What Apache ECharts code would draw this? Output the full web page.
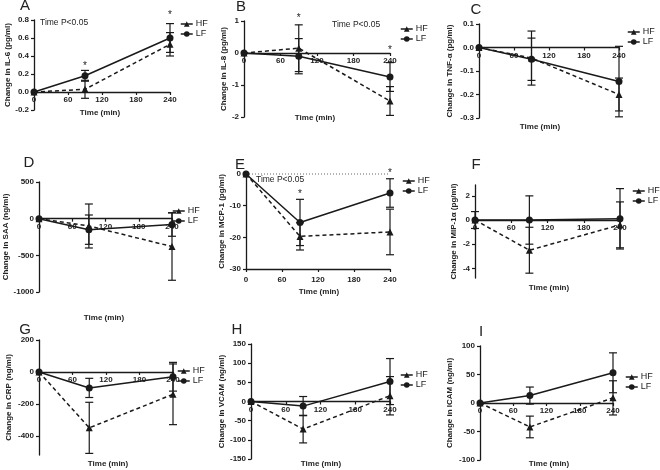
<!DOCTYPE html>
<html>
<head>
<meta charset="utf-8">
<script src="https://cdn.jsdelivr.net/npm/echarts@6/dist/echarts.min.js"></script>
<style>
html, body { margin: 0; padding: 0; background: #fff; }
#chart { width: 660px; height: 470px; }
</style>
</head>
<body>
<div id="chart"></div>
<script>
// sampling times (min)
const times = [0, 90, 240]
const xTicks = [0, 60, 120, 180, 240]

// mean change and error (SEM) per marker, HF / LF
const il6HF = [0, 0.03, 0.53], il6HFErr = [0, 0.10, 0.13]
const il6LF = [0, 0.18, 0.60], il6LFErr = [0, 0.06, 0.16]
const il8HF = [0, 0.15, -1.5], il8HFErr = [0, 0.73, 0.45]
const il8LF = [0, -0.1, -0.75], il8LFErr = [0, 0.55, 0.45]
const tnfHF = [0, -0.045, -0.2], tnfHFErr = [0, 0.115, 0.07]
const tnfLF = [0, -0.05, -0.145], tnfLFErr = [0, 0.09, 0.15]
const saaHF = [0, -100, -380], saaHFErr = [0, 300, 460]
const saaLF = [0, -150, -80], saaLFErr = [0, 200, 160]
const mcpHF = [0, -19.7, -18.3], mcpHFErr = [0, 4.3, 7.2]
const mcpLF = [0, -15.3, -6], mcpLFErr = [0, 7.3, 4.5]
const mipHF = [0, -2.5, -0.4], mipHFErr = [0.7, 1.9, 1.9]
const mipLF = [0, 0, 0.1], mipLFErr = [0, 2.0, 2.5]
const crpHF = [0, -350, -140], crpHFErr = [0, 160, 190]
const crpLF = [0, -100, -30], crpLFErr = [0, 60, 90]
const vcamHF = [0, -72, 15], vcamHFErr = [0, 36, 50]
const vcamLF = [0, -12, 52], vcamLFErr = [0, 25, 60]
const icamHF = [0, -42, 9], icamHFErr = [0, 19, 30]
const icamLF = [0, 13, 53], icamLFErr = [0, 15, 35]

// significance asterisks [time, y]
const il6Stars = [[90, 0.29], [240, 0.85]]
const il8Stars = [[90, 1.1], [240, 0.1]]
const mcpStars = [[90, -6.5], [240, 0.2]]

const FONT = '"Liberation Sans", Arial, sans-serif'
const INK = '#1a1a1a'

const panels = [
    { key: 'A', name: 'Change in IL-6 (pg/ml)', hf: il6HF, hfErr: il6HFErr, lf: il6LF, lfErr: il6LFErr, stars: il6Stars,
      grid: { left: 34, top: 20, width: 136, height: 90 }, y: { min: -0.2, max: 0.8, interval: 0.2, dec: 1 }, gap: 22,
      legend: [180, 19.5], letter: [25, 6], xName: [100, 113], note: [40, 23] },
    { key: 'B', name: 'Change in IL-8 (pg/ml)', hf: il8HF, hfErr: il8HFErr, lf: il8LF, lfErr: il8LFErr, stars: il8Stars,
      grid: { left: 244, top: 21, width: 146, height: 96 }, y: { min: -2, max: 1, interval: 1, dec: 0 }, gap: 16,
      legend: [400, 24.5], letter: [241, 7], xName: [315, 118], note: [332, 25] },
    { key: 'C', name: 'Change in TNF-\u03b1 (pg/ml)', hf: tnfHF, hfErr: tnfHFErr, lf: tnfLF, lfErr: tnfLFErr,
      grid: { left: 479, top: 24, width: 140, height: 94 }, y: { min: -0.3, max: 0.1, interval: 0.1, dec: 1 }, gap: 25,
      legend: [627, 27.5], letter: [476, 10], xName: [540, 127] },
    { key: 'D', name: 'Change in SAA (ng/ml)', hf: saaHF, hfErr: saaHFErr, lf: saaLF, lfErr: saaLFErr,
      grid: { left: 39, top: 182, width: 133, height: 110 }, y: { min: -1000, max: 500, interval: 500, dec: 0 }, gap: 29,
      legend: [172, 206.5], letter: [29, 163], xName: [104, 318] },
    { key: 'E', name: 'Change in MCP-1 (pg/ml)', hf: mcpHF, hfErr: mcpHFErr, lf: mcpLF, lfErr: mcpLFErr, stars: mcpStars,
      grid: { left: 246, top: 174, width: 144, height: 95 }, y: { min: -30, max: 0, interval: 10, dec: 0 }, gap: 19,
      legend: [402, 176.5], letter: [240, 165], xName: [319, 292], note: [256, 180], bottomAxis: true },
    { key: 'F', name: 'Change in MIP-1\u03b1 (pg/ml)', hf: mipHF, hfErr: mipHFErr, lf: mipLF, lfErr: mipLFErr,
      grid: { left: 475, top: 185, width: 145, height: 93 }, y: { min: -4.8, max: 2.9, ticks: [-4, -2, 0, 2], dec: 0 }, gap: 17,
      legend: [632, 186.5], letter: [476, 165], xName: [549, 288] },
    { key: 'G', name: 'Change in CRP (ng/ml)', hf: crpHF, hfErr: crpHFErr, lf: crpLF, lfErr: crpLFErr,
      grid: { left: 39, top: 340, width: 134, height: 115 }, y: { min: -520, max: 200, ticks: [-400, -200, 0, 200], dec: 0 }, gap: 26,
      legend: [177, 366.5], letter: [25, 330], xName: [108, 464] },
    { key: 'H', name: 'Change in VCAM (ng/ml)', hf: vcamHF, hfErr: vcamHFErr, lf: vcamLF, lfErr: vcamLFErr,
      grid: { left: 251, top: 344, width: 139, height: 115 }, y: { min: -150, max: 150, interval: 50, dec: 0 }, gap: 24,
      legend: [400, 370.5], letter: [237, 330], xName: [321, 464] },
    { key: 'I', name: 'Change in ICAM (ng/ml)', hf: icamHF, hfErr: icamHFErr, lf: icamLF, lfErr: icamLFErr,
      grid: { left: 480, top: 346, width: 133, height: 114 }, y: { min: -100, max: 100, interval: 50, dec: 0 }, gap: 26,
      legend: [625, 372.5], letter: [481, 332], xName: [549, 464] }
]

const axisLine = { lineStyle: { color: INK, width: 1.3 } }
const tickLabel = { color: '#222', fontSize: 8, fontWeight: 'bold', fontFamily: FONT }

function renderErr(params, api) {
    const x = api.value(0)
    const lo = api.coord([x, api.value(1)])
    const hi = api.coord([x, api.value(2)])
    const w = 4
    const style = { stroke: INK, lineWidth: 1.2 }
    return {
        type: 'group',
        children: [
            { type: 'line', shape: { x1: lo[0], y1: lo[1], x2: hi[0], y2: hi[1] }, style },
            { type: 'line', shape: { x1: lo[0] - w, y1: lo[1], x2: lo[0] + w, y2: lo[1] }, style },
            { type: 'line', shape: { x1: hi[0] - w, y1: hi[1], x2: hi[0] + w, y2: hi[1] }, style }
        ]
    }
}

function renderStar(params, api) {
    const c = api.coord([api.value(0), api.value(1)])
    return {
        type: 'text', x: c[0], y: c[1],
        style: { text: '*', fontSize: 10, fontFamily: FONT, fill: '#222', align: 'center', verticalAlign: 'middle' }
    }
}

// dotted baseline across the whole time range at y = value
function renderBaseline(params, api) {
    const a = api.coord([0, api.value(0)])
    const b = api.coord([240, api.value(0)])
    return {
        type: 'line', shape: { x1: a[0], y1: a[1], x2: b[0], y2: b[1] },
        style: { stroke: '#666', lineWidth: 1, lineDash: [1, 2] }
    }
}

// time tick labels under a bottom axis (the axis' own labels get dropped there)
const timeLabels = yBase => (params, api) => {
    const c = api.coord([api.value(0), yBase])
    return {
        type: 'text', x: c[0], y: c[1] + 7,
        style: { text: String(api.value(0)), fontSize: 8, fontWeight: 'bold', fontFamily: FONT, fill: '#222', align: 'center', verticalAlign: 'top' }
    }
}

const errRows = (vals, errs) => times
    .map((t, i) => [t, vals[i] - errs[i], vals[i] + errs[i]])
    .filter((r, i) => errs[i] > 0)

const grid = [], xAxis = [], yAxis = [], series = [], legend = [], graphic = []

panels.forEach((p, i) => {
    grid.push(p.grid)
    // x axis sits on y = 0, except panel E where it stays at the bottom
    const zeroShift = p.bottomAxis ? 0 : -p.grid.height * (0 - p.y.min) / (p.y.max - p.y.min)
    xAxis.push({
        type: 'value', gridIndex: i, min: 0, max: 240, interval: 60,
        position: 'bottom', offset: zeroShift,
        axisLine: { ...axisLine, onZero: false },
        axisTick: { length: 3, lineStyle: { color: INK, width: 1.2 } },
        axisLabel: { ...tickLabel, margin: 4, show: !p.bottomAxis },
        splitLine: { show: false }
    })
    const yLabel = { ...tickLabel, margin: 5, formatter: v => v.toFixed(p.y.dec) }
    const yTick = { length: 3, lineStyle: { color: INK, width: 1.2 } }
    if (p.y.ticks) {
        yLabel.customValues = p.y.ticks
        yTick.customValues = p.y.ticks
    }
    yAxis.push({
        type: 'value', gridIndex: i, min: p.y.min, max: p.y.max, interval: p.y.interval,
        name: p.name, nameLocation: 'middle', nameGap: p.gap,
        nameTextStyle: { fontSize: 8, fontWeight: 'bold', fontFamily: FONT, color: '#222' },
        axisLine: { show: true, onZero: false, ...axisLine },
        axisTick: { show: true, ...yTick },
        axisLabel: yLabel,
        splitLine: { show: false }
    })

    series.push(
        {
            type: 'line', name: 'HF', xAxisIndex: i, yAxisIndex: i, z: 3,
            data: times.map((t, k) => [t, p.hf[k]]),
            symbol: 'triangle', symbolSize: 7,
            itemStyle: { color: INK },
            lineStyle: { color: INK, width: 1.5, type: [4, 3] }
        },
        {
            type: 'line', name: 'LF', xAxisIndex: i, yAxisIndex: i, z: 3,
            data: times.map((t, k) => [t, p.lf[k]]),
            symbol: 'circle', symbolSize: 7,
            itemStyle: { color: INK },
            lineStyle: { color: INK, width: 1.5, type: 'solid' }
        },
        {
            type: 'custom', xAxisIndex: i, yAxisIndex: i, z: 2,
            data: errRows(p.hf, p.hfErr).concat(errRows(p.lf, p.lfErr)),
            encode: { x: 0, y: [1, 2] },
            renderItem: renderErr
        }
    )
    if (p.bottomAxis) {
        series.push({
            type: 'custom', xAxisIndex: i, yAxisIndex: i, z: 1,
            data: [[0]], encode: { y: 0 }, renderItem: renderBaseline
        })
        series.push({
            type: 'custom', xAxisIndex: i, yAxisIndex: i, z: 4,
            data: xTicks.map(t => [t]), encode: { x: 0 }, renderItem: timeLabels(p.y.min)
        })
    }
    if (p.stars) {
        series.push({
            type: 'custom', xAxisIndex: i, yAxisIndex: i, z: 4,
            data: p.stars, renderItem: renderStar
        })
    }

    legend.push({
        data: ['HF', 'LF'], left: p.legend[0], top: p.legend[1],
        orient: 'vertical', selectedMode: false,
        itemWidth: 12, itemHeight: 7, itemGap: 1, padding: 0,
        lineStyle: { type: 'solid', width: 1.5 },
        textStyle: { fontSize: 9, fontFamily: FONT, color: '#222', padding: [0, 0, 0, -2] }
    })

    graphic.push({
        type: 'text', x: p.letter[0], y: p.letter[1],
        style: { text: p.key, fontSize: 15, fontFamily: FONT, fill: '#222', align: 'center', verticalAlign: 'middle' }
    })
    graphic.push({
        type: 'text', x: p.xName[0], y: p.xName[1],
        style: { text: 'Time (min)', fontSize: 8, fontWeight: 'bold', fontFamily: FONT, fill: '#222', align: 'center', verticalAlign: 'middle' }
    })
    if (p.note) {
        graphic.push({
            type: 'text', x: p.note[0], y: p.note[1],
            style: { text: 'Time P<0.05', fontSize: 8.5, fontFamily: FONT, fill: '#222', align: 'left', verticalAlign: 'middle' }
        })
    }
})

const chart = echarts.init(document.getElementById('chart'))
chart.setOption({
    animation: false,
    backgroundColor: '#fff',
    grid, xAxis, yAxis, series, legend, graphic
})
</script>
</body>
</html>
